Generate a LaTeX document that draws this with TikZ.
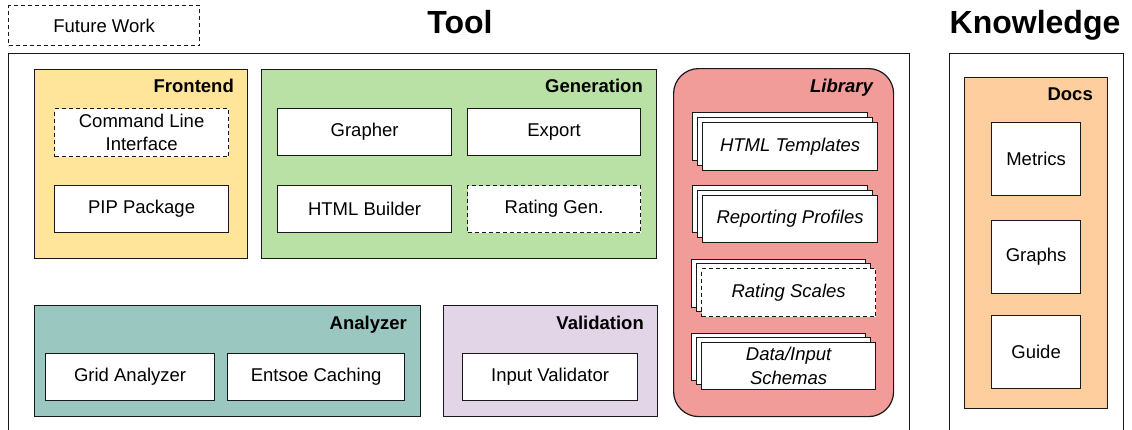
\documentclass[tikz,border=0pt]{standalone}
\usepackage{fontspec}
\setmainfont{Liberation Sans}
\definecolor{frontc}{HTML}{FFE599}
\definecolor{genc}{HTML}{B9E0A5}
\definecolor{libc}{HTML}{F19C99}
\definecolor{anac}{HTML}{9AC7BF}
\definecolor{valc}{HTML}{E1D5E7}
\definecolor{docc}{HTML}{FFCE9F}
\tikzset{
  blkbase/.style={draw=black!90, line width=1.2pt, anchor=north west, inner sep=0pt,
    align=center, font=\fontsize{18.5}{23.5}\selectfont},
  item/.style={blkbase, fill=white},
  group/.style={blkbase},
  future/.style={dash pattern=on 4pt off 3pt},
  grouplabel/.style={anchor=base east, inner sep=0pt, font=\fontsize{18.5}{22}\selectfont\bfseries},
  title/.style={anchor=base, inner sep=0pt, font=\fontsize{32}{38}\selectfont\bfseries},
  sheet/.style={item, minimum width=175pt, minimum height=48pt},
}
% \blk{style}{name}{x}{y}{width}{height}{text}
\newcommand\blk[7]{\node[#1, minimum width=#5pt, minimum height=#6pt] (#2) at (#3,#4) {#7};}
\begin{document}
\begin{tikzpicture}[x=1pt, y=-1pt]
\useasboundingbox (0,0) rectangle (1132,429);
\clip (0,0) rectangle (1132,429);

% legend
\blk{item, future}{legend}{8}{5}{191}{40}{Future Work}

% titles
\node[title] (tooltitle) at (460,33) {Tool};
\node[title] (knowtitle) at (1035,33) {Knowledge};

% outer frames
\blk{group, fill=white}{tool}{8}{53}{901}{420}{}
\blk{group, fill=white}{know}{949}{53}{174}{420}{}

% Frontend
\blk{group, fill=frontc}{frontend}{34}{69}{213}{189}{}
\node[grouplabel] (frontendlbl) at (234,92) {Frontend};
\blk{item, future}{cli}{54}{108}{174}{48}{Command Line\\Interface}
\blk{item}{pip}{54}{185}{174}{47}{PIP Package}

% Generation
\blk{group, fill=genc}{generation}{261}{69}{395}{189}{}
\node[grouplabel] (generationlbl) at (643,92) {Generation};
\blk{item}{grapher}{277}{108}{174}{47}{Grapher}
\blk{item}{export}{467}{108}{173}{47}{Export}
\blk{item}{htmlbuilder}{277}{185}{174}{47}{HTML Builder}
\blk{item, future}{ratinggen}{467}{185}{173}{47}{Rating Gen.}

% Library
\blk{group, fill=libc, rounded corners=25pt}{library}{673}{68}{220}{348}{}
\node[grouplabel, font=\fontsize{18.5}{22}\selectfont\bfseries\itshape] (librarylbl) at (873,92) {Library};

\blk{sheet}{tplA}{692}{112}{175}{48}{}
\blk{sheet}{tplB}{697}{117}{175}{48}{}
\blk{sheet}{tpl}{702}{122}{175}{48}{\itshape HTML Templates}

\blk{sheet}{profA}{692}{185}{175}{47}{}
\blk{sheet}{profB}{697}{190}{175}{47}{}
\blk{sheet}{prof}{702}{195}{175}{47}{\itshape Reporting Profiles}

\blk{sheet}{scaleA}{691}{259}{174}{48}{}
\blk{sheet}{scaleB}{696}{263}{174}{48}{}
\blk{sheet, future}{scale}{701}{268}{174}{48}{\itshape Rating Scales}

\blk{sheet}{schemaA}{691}{333}{174}{47}{}
\blk{sheet}{schemaB}{696}{337}{174}{47}{}
\blk{sheet}{schema}{701}{342}{174}{47}{\itshape Data/Input\\\itshape Schemas}

% Analyzer
\blk{group, fill=anac}{analyzer}{34}{305}{386}{111}{}
\node[grouplabel] (analyzerlbl) at (407,329) {Analyzer};
\blk{item}{grid}{45}{353}{169}{47}{Grid Analyzer}
\blk{item}{entsoe}{227}{353}{177}{47}{Entsoe Caching}

% Validation
\blk{group, fill=valc}{validation}{443}{305}{214}{111}{}
\node[grouplabel] (validationlbl) at (644,329) {Validation};
\blk{item}{inputval}{462}{353}{175}{47}{Input Validator}

% Docs
\blk{group, fill=docc}{docs}{964}{77}{143}{331}{}
\node[grouplabel] (docslbl) at (1093,100) {Docs};
\blk{item}{metrics}{991}{122}{89}{73}{Metrics}
\blk{item}{graphs}{991}{220}{89}{73}{Graphs}
\blk{item}{guide}{991}{315}{89}{73}{Guide}
\end{tikzpicture}
\end{document}
